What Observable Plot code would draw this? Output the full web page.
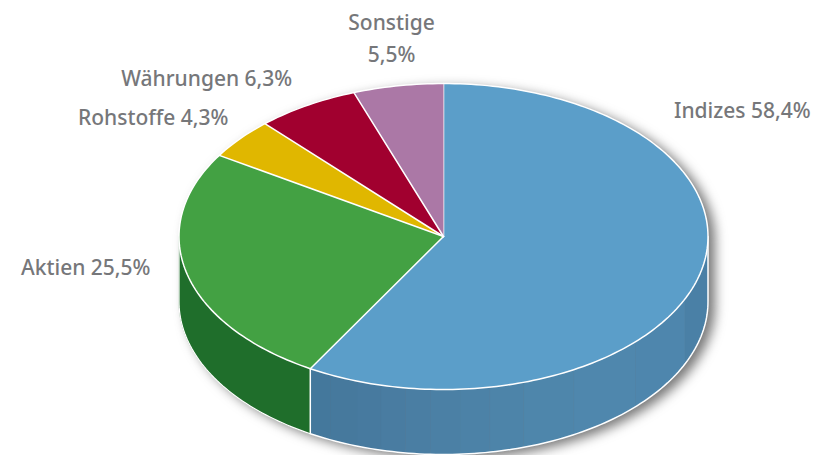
<!DOCTYPE html>
<html><head><meta charset="utf-8">
<style>html,body{margin:0;padding:0;background:#fff}svg{display:block}</style>
<script src="https://cdn.jsdelivr.net/npm/d3@7"></script>
<script src="https://cdn.jsdelivr.net/npm/@observablehq/plot@0.6"></script>
</head><body><script>
const names = ["Indizes","Aktien","Rohstoffe","Währungen","Sonstige"];
const shares = [58.4,25.5,4.3,6.3,5.5];
const labels = ["Indizes 58,4%","Aktien 25,5%","Rohstoffe 4,3%","Währungen 6,3%","Sonstige\n5,5%"];
const topColors = ["#5b9ec9","#43a143","#e0b700","#a1002f","#ab78a6"];
const wallGreen = "#1f6e2b";
// shading bands on the blue wall (end share in percent, colour)
const bandEnds = [31.7,37.1,41.8,45.1,47.2,49,50.8,52.3,53.8,55.3,57,58.4];
const bandColors = ["#4a80a6","#4e86ad","#4f87ad","#4e86ab","#4d84a9","#4c82a7","#4b80a5","#4a7ea3","#497ca1","#477a9f","#46799d","#44789c"];
const labelDx = [43.5,-101,-87,-100,-6.5];
const labelDy = [-169,-8,-24,-30,-50];

const depth = 0.425; // wall height in units of the vertical radius
const px = p => Math.sin(p*2*Math.PI/100), py = p => Math.cos(p*2*Math.PI/100);
function arc(a,b,off=0){ const n=Math.max(2,Math.ceil((b-a)*3)), o=[];
  for(let i=0;i<=n;i++){const p=a+(b-a)*i/n;o.push({x:px(p),y:py(p)-off});} return o; }

let acc=0; const slices=names.map((name,i)=>{const s={name,i,a:acc,b:acc+shares[i]};acc+=shares[i];return s;});
const topPts=slices.flatMap(s=>[{x:0,y:0},...arc(s.a,s.b)].map(d=>({...d,key:s.name,fill:topColors[s.i]})));

const wall=(a,b)=>[...arc(a,b),...arc(a,b,depth).reverse()];
const wallPts=[];
let prev=25;
bandEnds.forEach((e,i)=>{wall(prev,e).forEach(d=>wallPts.push({...d,key:"b"+i,fill:bandColors[i]}));prev=e;});
wall(58.4,75).forEach(d=>wallPts.push({...d,key:"g",fill:wallGreen}));

const silhouette=[...arc(25,75,depth),...arc(75,125)];
const bottomRim=[{x:1,y:0},...arc(25,58.4,depth),{x:px(58.4),y:py(58.4)}];
const green=[...arc(58.4,75,depth),{x:-1,y:0}];
const mid=slices.map(s=>{const p=(s.a+s.b)/2;return {x:px(p),y:py(p),label:labels[s.i],dx:labelDx[s.i],dy:labelDy[s.i]};});

const textMarks=mid.map(d=>Plot.text([d],{x:"x",y:"y",text:"label",dx:d.dx,dy:d.dy,fill:"#76777a",fontSize:21,fontWeight:500,lineHeight:1.52,fontFamily:"Noto Sans"}));

const chart=Plot.plot({
  width:814,height:455,margin:0,
  x:{domain:[-1,1],range:[178.5,707.5],axis:null},
  y:{domain:[-1,1],range:[389,83],axis:null},
  color:{type:"identity"},
  marks:[
    Plot.line(silhouette,{x:"x",y:"y",fill:"#555",stroke:"none",dx:7,dy:4,imageFilter:"blur(6px)",fillOpacity:.8}),
    Plot.line(wallPts,{x:"x",y:"y",z:"key",fill:"fill",stroke:"fill",strokeWidth:.6}),
    Plot.line(bottomRim,{x:"x",y:"y",stroke:"#fff",strokeWidth:1.5}),
    Plot.line(green,{x:"x",y:"y",stroke:"#fff",strokeWidth:1.2}),
    Plot.line(topPts,{x:"x",y:"y",z:"key",fill:"fill",stroke:"#fff",strokeWidth:1.5,strokeLinejoin:"round"}),
    ...textMarks
  ]
});
document.body.appendChild(chart);
</script></body></html>
